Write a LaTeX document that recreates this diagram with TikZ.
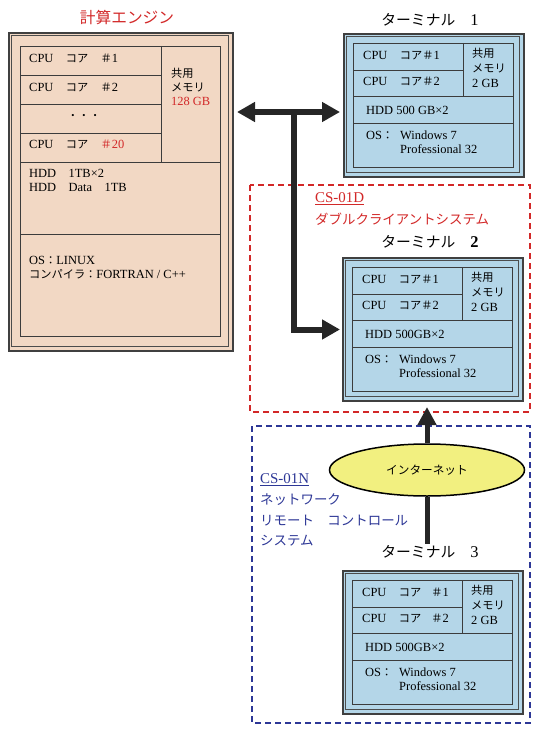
\documentclass[tikz,border=0pt]{standalone}
\usepackage{fontspec}
\setmainfont{Liberation Serif}
\newfontfamily\jp[Scale=0.9]{Noto Sans CJK JP}
\usepackage{xcolor}
\usepackage{tikz}
\usetikzlibrary{positioning,arrows.meta,shapes.geometric,calc}

\definecolor{enginefill}{RGB}{242,216,196}
\definecolor{termfill}{RGB}{180,214,232}
\definecolor{netfill}{RGB}{242,240,128}
\definecolor{labelred}{RGB}{210,40,40}
\definecolor{labelblue}{RGB}{45,55,150}
\definecolor{linegray}{RGB}{60,60,60}

\tikzset{
  frame/.style={draw=black!75, line width=2bp, anchor=north west, inner sep=0pt},
  cell/.style={draw=linegray, line width=0.8bp},
  lbl/.style={anchor=west, inner sep=0pt, font=\fontsize{12.5}{14}\selectfont},
  note/.style={anchor=west, inner sep=0pt, font=\fontsize{15}{17}\selectfont},
  ttl/.style={inner sep=1pt, font=\fontsize{16.5}{18}\selectfont},
  bus/.style={line width=6bp, draw=black!85},
  grp/.style={line width=1.2bp, dash pattern=on 6bp off 4bp}
}

\begin{document}
\begin{tikzpicture}[x=1bp,y=-1bp]
\useasboundingbox (0,0) rectangle (540,733);

% Client system groups
\draw[grp, labelred] (250,185) rectangle (530,412);
\draw[grp, labelblue] (252,426) rectangle (530,723);
\node[note, labelred] (d-code) at (315,199) {\underline{CS-01D}};
\node[note, labelred] (d-name) at (315,219) {{\jp ダブルクライアントシステム}};
\node[note, labelblue] (n-code) at (260,480) {\underline{CS-01N}};
\node[note, labelblue] (n-name1) at (260,500) {{\jp ネットワーク}};
\node[note, labelblue] (n-name2) at (260,521) {{\jp リモート　コントロール}};
\node[note, labelblue] (n-name3) at (260,541) {{\jp システム}};

% Calculation engine
\node[ttl, labelred, font=\fontsize{17.5}{20}\selectfont] (e-title) at (127,18) {{\jp 計算エンジン}};
\node[frame, fill=enginefill, minimum width=224bp, minimum height=318bp] (engine) at (8,32) {};
\draw[line width=0.7bp, black!70] (11.5,35.5) rectangle (228.5,346.5);
\draw[cell] (20,46) rectangle (220,336);
\draw[cell] (161,46) -- (161,162);
\foreach \y in {75,104,133} \draw[cell] (20,\y) -- (161,\y);
\draw[cell] (20,162) -- (220,162);
\draw[cell] (20,234) -- (220,234);
\node[lbl] (e-c1) at (29,58) {CPU\quad{\jp コア}\quad{\jp ＃}1};
\node[lbl] (e-c2) at (29,87) {CPU\quad{\jp コア}\quad{\jp ＃}2};
\node[inner sep=0pt, font=\fontsize{9}{9}\selectfont] (e-dots) at (84,116) {\textbullet\hspace{8bp}\textbullet\hspace{8bp}\textbullet};
\node[lbl] (e-c20) at (29,144) {CPU\quad{\jp コア}\quad\textcolor{labelred}{{\jp ＃}20}};
\node[lbl] (e-m1) at (171,73) {{\jp 共用}};
\node[lbl] (e-m2) at (171,87) {{\jp メモリ}};
\node[lbl, labelred] (e-m3) at (171,101) {128 GB};
\node[lbl] (e-hdd1) at (29,173) {HDD\quad 1TB×2};
\node[lbl] (e-hdd2) at (29,187) {HDD\quad Data\quad 1TB};
\node[lbl] (e-os1) at (29,260) {OS{\jp ：}LINUX};
\node[lbl] (e-os2) at (29,274) {{\jp コンパイラ：}FORTRAN / C++};

% Terminals
\foreach \t/\x/\y/\gap/\hdd in {t1/343/33/{}/{500 GB}, t2/342/257/{}/{500GB}, t3/342/570/{\hspace{10bp}}/{500GB}} {
  \node[frame, fill=termfill, minimum width=180bp, minimum height=143bp] (\t) at (\x,\y) {};
  \draw[line width=0.7bp, black!70] ({\x+3.5},{\y+3.5}) rectangle ({\x+176.5},{\y+139.5});
  \draw[cell] ({\x+10},{\y+10}) rectangle ({\x+170},{\y+134});
  \draw[cell] ({\x+120},{\y+10}) -- ({\x+120},{\y+63});
  \draw[cell] ({\x+10},{\y+37}) -- ({\x+120},{\y+37});
  \draw[cell] ({\x+10},{\y+63}) -- ({\x+170},{\y+63});
  \draw[cell] ({\x+10},{\y+90}) -- ({\x+170},{\y+90});
  \node[lbl] (\t-c1) at ({\x+20},{\y+22}) {CPU\quad{\jp コア}\gap{\jp ＃}1};
  \node[lbl] (\t-c2) at ({\x+20},{\y+48}) {CPU\quad{\jp コア}\gap{\jp ＃}2};
  \node[lbl] (\t-m1) at ({\x+129},{\y+20}) {{\jp 共用}};
  \node[lbl] (\t-m2) at ({\x+129},{\y+35}) {{\jp メモリ}};
  \node[lbl] (\t-m3) at ({\x+129},{\y+50}) {2 GB};
  \node[lbl] (\t-hdd) at ({\x+23},{\y+77}) {HDD \hdd×2};
  \node[lbl] (\t-os) at ({\x+23},{\y+102}) {OS{\jp ：}};
  \node[lbl] (\t-win) at ({\x+57},{\y+102}) {Windows 7};
  \node[lbl] (\t-pro) at ({\x+57},{\y+116}) {Professional 32};
}
\node[ttl] (t1-title) at (430,20) {{\jp ターミナル}\hspace{15bp}1};
\node[ttl] (t2-title) at (430,242) {{\jp ターミナル}\hspace{15bp}\textbf{2}};
\node[ttl] (t3-title) at (430,552) {{\jp ターミナル}\hspace{15bp}3};

% Internet
\node[ellipse, draw, line width=1.5bp, fill=netfill, minimum width=195bp, minimum height=52bp,
      font=\fontsize{13}{15}\selectfont] (net) at (427,470) {{\jp インターネット}};

% Connections
\coordinate (bus) at (294,112);
\draw[bus, {Triangle[length=18bp,width=19bp]}-{Triangle[length=18bp,width=19bp]},
      shorten <=3bp, shorten >=3bp] (engine.east |- bus) -- (t1.west |- bus);
\draw[bus, -{Triangle[length=18bp,width=19bp]}, shorten >=2bp] (bus) |- (t2.west);
\draw[bus, line width=5bp, -{Triangle[length=18bp,width=18bp]}, shorten >=5bp] (net.north) -- (net.north |- t2.south);
\draw[bus, line width=5bp] (net.south) -- (net.south |- t3-title.north);

\end{tikzpicture}
\end{document}
